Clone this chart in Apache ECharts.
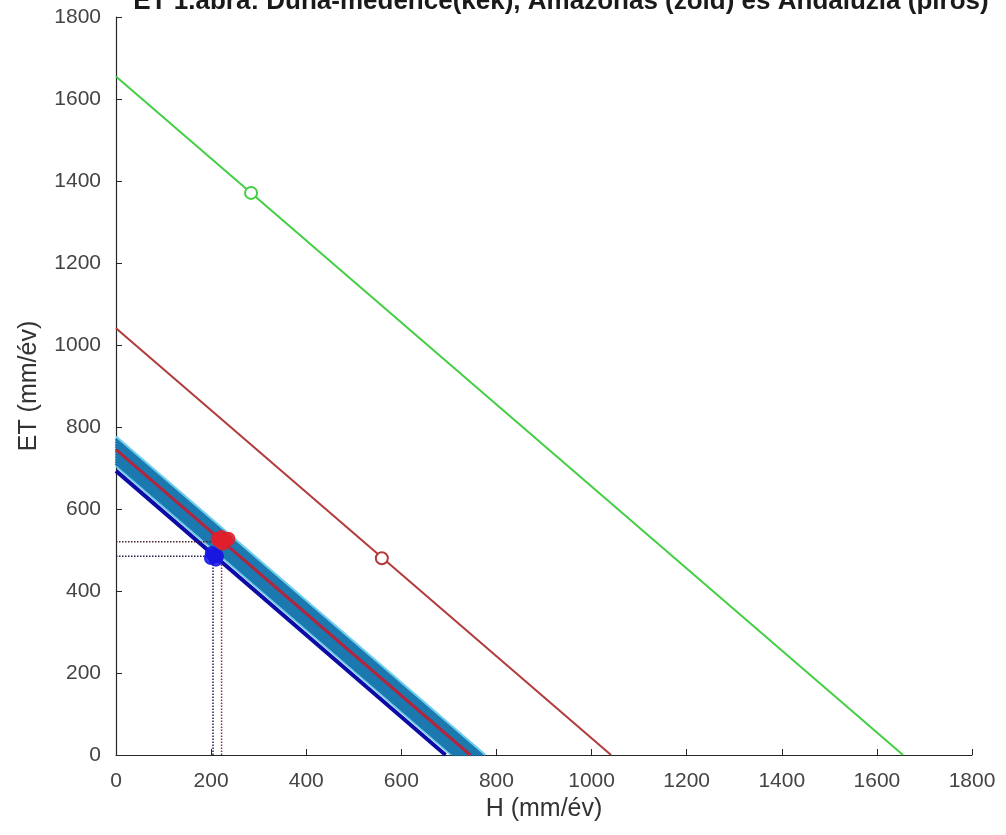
<!DOCTYPE html>
<html>
<head>
<meta charset="utf-8">
<script src="https://cdn.jsdelivr.net/npm/echarts@6/dist/echarts.min.js"></script>
<style>
  html, body { margin: 0; padding: 0; background: #fff; }
  #chart { width: 1006px; height: 835px; }
</style>
</head>
<body>
<div id="chart"></div>
<script>
// vonalak (H + ET = csapadék)
var greenLine = [[0, 1655], [1655, 0]];
var redLine = [[0, 1041], [1041, 0]];
var darkBlueLine = [[0, 693], [693, 0]];
var cyanLowLine = [[0, 704], [704, 0]];
var cyanHighLine = [[0, 777], [777, 0]];
var bandRedLine = [[0, 745], [745, 0]];
// Duna-medence évenkénti vonalai (kék sáv)
var bandSums = [712, 718, 724, 730, 736, 742, 748, 754, 760, 766, 772];

// pontok
var greenPoint = [[284, 1371]];
var redPoint = [[559, 480]];
var blueCluster = [[200, 481], [206, 488], [210, 477], [202, 492], [212, 485]];
var redCluster = [[218, 522], [225, 516], [214, 527], [230, 524], [222, 531], [236, 527]];

// szaggatott segédvonalak
var dotBlueH = [[0, 485], [204, 485]];
var dotBlueV = [[204, 0], [204, 485]];
var dotRedH = [[0, 520], [222, 520]];
var dotRedV = [[222, 0], [222, 520]];

var chart = echarts.init(document.getElementById('chart'));

function line(data, color, width, type) {
  return {
    type: 'line',
    data: data,
    symbol: 'none',
    silent: true,
    lineStyle: { color: color, width: width, type: type || 'solid' }
  };
}
function marks(data, color, size, filled) {
  return {
    type: 'scatter',
    data: data,
    z: 5,
    symbol: filled ? 'circle' : 'emptyCircle',
    symbolSize: size || 12,
    itemStyle: {
      color: color,
      opacity: filled ? 0.85 : 1,
      borderColor: color,
      borderWidth: 1.5
    }
  };
}

var series = [];
bandSums.forEach(function (s) {
  series.push(line([[0, s], [s, 0]], '#1b79b0', 4));
});
series.push(line(cyanHighLine, '#6fd0ee', 2));
series.push(line(cyanLowLine, '#5cc6ea', 1.5));
series.push(line(bandRedLine, '#b3243d', 3));
series.push(line(darkBlueLine, '#0b0ba6', 4));
series.push(line(redLine, '#b23a3a', 2));
series.push(line(greenLine, '#43cf43', 2));
series.push(line(dotBlueH, '#22224a', 1.5, 'dotted'));
series.push(line(dotBlueV, '#22225a', 1.5, 'dotted'));
series.push(line(dotRedH, '#4a2230', 1.5, 'dotted'));
series.push(line(dotRedV, '#7a3050', 1.5, 'dotted'));
series.push(marks(blueCluster, '#1818e0', 13, true));
series.push(marks(redCluster, '#e0202a', 13, true));
series.push(marks(greenPoint, '#43cf43'));
series.push(marks(redPoint, '#b23a3a'));

var axisCommon = {
  type: 'value',
  min: 0,
  max: 1800,
  interval: 200,
  nameLocation: 'middle',
  nameTextStyle: { fontSize: 25, color: '#333', fontFamily: 'Liberation Sans' },
  axisLine: { show: true, onZero: false, lineStyle: { color: '#262626', width: 1.2 } },
  axisTick: { show: true, inside: true, length: 6, lineStyle: { color: '#262626' } },
  axisLabel: {
    fontSize: 21, color: '#444', fontFamily: 'Liberation Sans',
    formatter: function (v) { return String(v); }
  },
  splitLine: { show: false }
};

var option = {
  animation: false,
  backgroundColor: '#fff',
  graphic: [{
    type: 'text',
    style: {
      text: 'ET 1.ábra: Duna-medence(kék), Amazonas (zöld) és Andalúzia (piros)',
      x: 561, y: 15,
      align: 'center', verticalAlign: 'bottom',
      font: 'bold 26px "Liberation Sans"',
      fill: '#1a1a1a'
    }
  }],
  grid: { left: 116, top: 17, width: 856, height: 738 },
  xAxis: Object.assign({}, axisCommon, {
    name: 'H (mm/év)',
    nameGap: 40,
    axisLabel: Object.assign({}, axisCommon.axisLabel, { margin: 16 })
  }),
  yAxis: Object.assign({}, axisCommon, {
    name: 'ET (mm/év)',
    nameGap: 74,
    axisLabel: Object.assign({}, axisCommon.axisLabel, { margin: 15 })
  }),
  series: series
};
chart.setOption(option);
</script>
</body>
</html>
